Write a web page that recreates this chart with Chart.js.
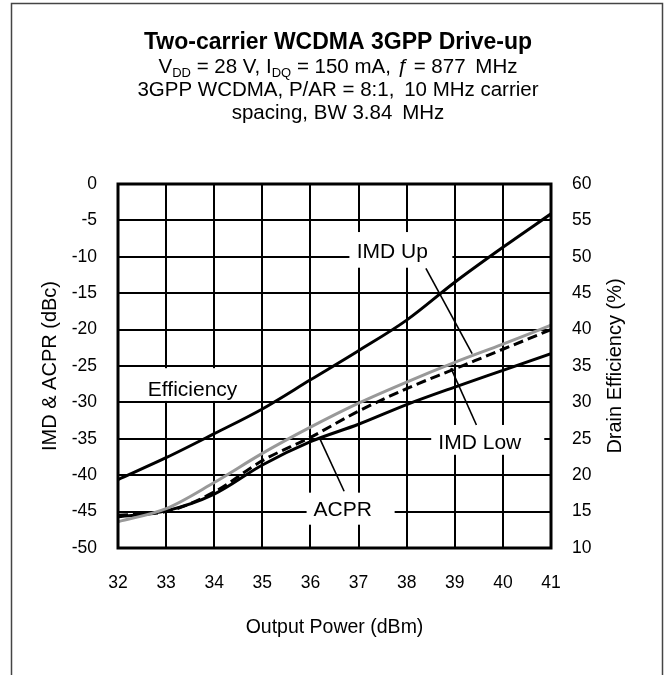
<!DOCTYPE html>
<html>
<head>
<meta charset="utf-8">
<script src="https://cdn.jsdelivr.net/npm/chart.js@4.4.1/dist/chart.umd.min.js"></script>
<style>
  html, body { margin: 0; padding: 0; background: #fff; }
  #wrap { width: 664px; height: 675px; }
</style>
</head>
<body>
<div id="wrap"><canvas id="chart" width="664" height="675"></canvas></div>
<script>
// values
const outputPower = [32, 33, 34, 35, 36, 37, 38, 39, 40, 41];
const imdUp = [-46.4, -44.6, -41.0, -37.0, -33.4, -30.1, -27.2, -24.5, -22.0, -19.4];
const imdLow = [-45.5, -45.0, -42.3, -38.0, -34.8, -31.2, -28.1, -25.4, -22.7, -20.0];
const acpr = [-45.7, -44.9, -42.6, -38.6, -35.4, -33.0, -30.3, -27.9, -25.6, -23.3];
const drainEff = [19.4, 22.4, 25.7, 29.1, 33.1, 37.1, 41.3, 46.5, 51.3, 55.9];

const FONT = "'Liberation Sans', Arial, sans-serif";

// series labels with their white boxes and leader lines (data coords)
const labels = [
  { text: 'IMD Up', x: 37.7, y: -9.3, box: [36.81, 38.95, -6.6, -11.5], lead: [38.4, -11.6, 39.36, -23.3] },
  { text: 'Efficiency', x: 33.55, y: -28.3, box: [32.14, 34.74, -25.3, -29.8], lead: null },
  { text: 'ACPR', x: 36.67, y: -44.8, box: [35.92, 37.75, -42.4, -46.8], lead: [36.7, -42.2, 36.19, -34.9] },
  { text: 'IMD Low', x: 39.52, y: -35.6, box: [38.51, 40.86, -33.1, -37.2], lead: [39.45, -33.1, 38.92, -25.3] }
];

const pts = arr => outputPower.map((p, i) => ({ x: p, y: arr[i] }));

function drawRich(ctx, segs, cx, y) {
  let w = 0;
  segs.forEach(s => { ctx.font = s.font; w += ctx.measureText(s.t).width; });
  let x = cx - w / 2;
  ctx.textAlign = 'left';
  ctx.textBaseline = 'alphabetic';
  segs.forEach(s => {
    ctx.font = s.font;
    ctx.fillText(s.t, x, y + (s.dy || 0));
    x += ctx.measureText(s.t).width;
  });
}

const decorPlugin = {
  id: 'decor',
  beforeDatasetsDraw(chart) {
    const { ctx, scales: { x, y } } = chart;
    ctx.save();
    ctx.fillStyle = '#fff';
    labels.forEach(l => {
      const x0 = x.getPixelForValue(l.box[0]), x1 = x.getPixelForValue(l.box[1]);
      const y0 = y.getPixelForValue(l.box[2]), y1 = y.getPixelForValue(l.box[3]);
      ctx.fillRect(x0, y0, x1 - x0, y1 - y0);
    });
    ctx.restore();
  },
  afterDatasetsDraw(chart) {
    const { ctx, chartArea: a, scales: { x, y } } = chart;
    ctx.save();
    ctx.strokeStyle = '#000';
    ctx.lineWidth = 1.6;
    labels.forEach(l => {
      if (!l.lead) return;
      ctx.beginPath();
      ctx.moveTo(x.getPixelForValue(l.lead[0]), y.getPixelForValue(l.lead[1]));
      ctx.lineTo(x.getPixelForValue(l.lead[2]), y.getPixelForValue(l.lead[3]));
      ctx.stroke();
    });
    ctx.fillStyle = '#000';
    ctx.font = '21px ' + FONT;
    ctx.textAlign = 'center';
    ctx.textBaseline = 'middle';
    labels.forEach(l => ctx.fillText(l.text, x.getPixelForValue(l.x), y.getPixelForValue(l.y)));

    // plot frame
    ctx.lineWidth = 3;
    ctx.strokeRect(a.left, a.top, a.right - a.left, a.bottom - a.top);
    ctx.restore();
  },
  afterDraw(chart) {
    const { ctx, chartArea: a } = chart;
    ctx.save();
    // outer figure border
    ctx.strokeStyle = '#444';
    ctx.lineWidth = 1.5;
    ctx.beginPath();
    ctx.moveTo(11.5, 680);
    ctx.lineTo(11.5, 3.5);
    ctx.lineTo(662.5, 3.5);
    ctx.lineTo(662.5, 680);
    ctx.stroke();

    ctx.fillStyle = '#000';
    const cx = 338;
    const reg = '20.5px ' + FONT, sub = '13px ' + FONT;
    drawRich(ctx, [{ t: 'Two-carrier WCDMA 3GPP Drive-up', font: 'bold 23px ' + FONT }], cx, 49);
    drawRich(ctx, [
      { t: 'V', font: reg }, { t: 'DD', font: sub, dy: 4 },
      { t: ' = 28 V, I', font: reg }, { t: 'DQ', font: sub, dy: 4 },
      { t: ' = 150 mA, ', font: reg }, { t: 'ƒ', font: 'italic 20.5px ' + FONT },
      { t: ' = 877\u2009 MHz', font: reg }
    ], cx, 73);
    drawRich(ctx, [{ t: '3GPP WCDMA, P/AR = 8:1,\u2009 10 MHz carrier', font: reg }], cx, 96);
    drawRich(ctx, [{ t: 'spacing, BW 3.84\u2009 MHz', font: reg }], cx, 119);

    // right axis title, reads bottom to top
    ctx.save();
    ctx.translate(615, (a.top + a.bottom) / 2);
    ctx.rotate(-Math.PI / 2);
    ctx.font = '20px ' + FONT;
    ctx.textAlign = 'center';
    ctx.textBaseline = 'middle';
    ctx.fillText('Drain Efficiency (%)', 0, 0);
    ctx.restore();
    ctx.restore();
  }
};

new Chart(document.getElementById('chart'), {
  type: 'line',
  data: {
    datasets: [
      { label: 'Efficiency', data: pts(drainEff), yAxisID: 'y2', borderColor: '#000', borderWidth: 3 },
      { label: 'IMD Up', data: pts(imdUp), yAxisID: 'y', borderColor: '#999', borderWidth: 3 },
      { label: 'IMD Low', data: pts(imdLow), yAxisID: 'y', borderColor: '#000', borderWidth: 3, borderDash: [10, 5] },
      { label: 'ACPR', data: pts(acpr), yAxisID: 'y', borderColor: '#000', borderWidth: 3 }
    ]
  },
  options: {
    responsive: false,
    animation: false,
    devicePixelRatio: 1,
    layout: { padding: { top: 184, left: 0, right: 0, bottom: 0 } },
    elements: {
      point: { radius: 0 },
      line: { tension: 0.4, cubicInterpolationMode: 'monotone', fill: false }
    },
    plugins: { legend: { display: false }, tooltip: { enabled: false }, title: { display: false } },
    scales: {
      x: {
        type: 'linear', min: 32, max: 41,
        afterFit: s => { s.height = 127; },
        ticks: { stepSize: 1, color: '#000', padding: 25, font: { family: FONT, size: 17.5 } },
        grid: { color: '#000', lineWidth: 2, drawTicks: false },
        border: { display: false },
        title: { display: true, text: 'Output Power (dBm)', color: '#000', font: { family: FONT, size: 19.5 }, padding: { top: 0, bottom: 36 } }
      },
      y: {
        position: 'left', min: -50, max: 0,
        afterFit: s => { s.width = 118; },
        ticks: { stepSize: 5, color: '#000', padding: 21, font: { family: FONT, size: 17.5 } },
        grid: { color: '#000', lineWidth: 2, drawTicks: false },
        border: { display: false },
        title: { display: true, text: 'IMD & ACPR (dBc)', color: '#000', font: { family: FONT, size: 20 }, padding: { top: 38, bottom: 0 } }
      },
      y2: {
        position: 'right', min: 10, max: 60,
        afterFit: s => { s.width = 113; },
        ticks: { stepSize: 5, color: '#000', padding: 21, font: { family: FONT, size: 17.5 } },
        grid: { display: false, drawTicks: false },
        border: { display: false }
      }
    }
  },
  plugins: [decorPlugin]
});
</script>
</body>
</html>
